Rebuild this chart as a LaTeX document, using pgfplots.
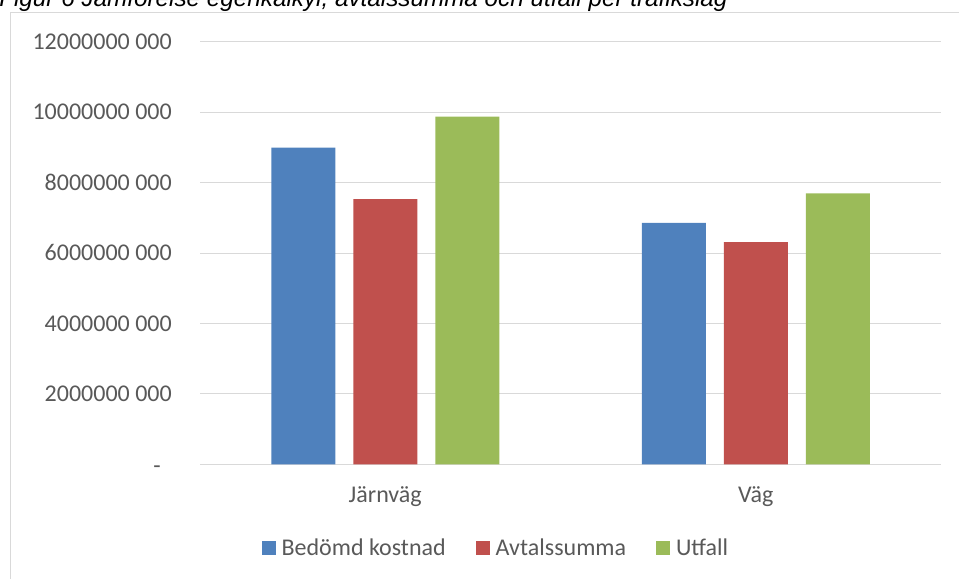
\documentclass[border=0pt]{standalone}
\usepackage{pgfplots}
\pgfplotsset{compat=1.18}
\usepackage{fontspec}
\setmainfont{Carlito}
\newfontfamily\titlefont{Liberation Sans}
\definecolor{cblue}{HTML}{4F81BD}
\definecolor{cred}{HTML}{C0504D}
\definecolor{cgreen}{HTML}{9BBB59}
\definecolor{ctext}{HTML}{595959}
\definecolor{cgrid}{HTML}{D9D9D9}
\begin{document}
\begin{tikzpicture}[x=0.75pt,y=-0.75pt]
\useasboundingbox (0,0) rectangle (959,578);
\begin{scope}
\clip (0,0) rectangle (959,578);
\node[anchor=base west, inner sep=0pt, font=\titlefont\itshape\fontsize{18.2}{22}\selectfont] at (-1,7) {Figur 6 Jämförelse egenkalkyl, avtalssumma och utfall per trafikslag};
\draw[cgrid, line width=0.75pt] (10.5,600) -- (10.5,12.5) -- (980,12.5);
\end{scope}
\coordinate (O) at (200,464.3);
\begin{axis}[
  at={(O)}, anchor=south west,
  scale only axis, width=555.75pt, height=316.8pt,
  ybar=13.5pt, bar width=48pt,
  xmin=-0.5, xmax=1.5, ymin=0, ymax=12,
  xtick={0,1}, xticklabels={Järnväg,Väg},
  ytick={0,2,4,6,8,10,12},
  yticklabels={{\raisebox{-1.5pt}{-}\kern8.3pt},2000000 000,4000000 000,6000000 000,8000000 000,10000000 000,12000000 000},
  major tick length=0pt,
  axis line style={draw=none},
  ymajorgrids, grid style={cgrid, line width=0.75pt},
  tick label style={font=\fontsize{18}{21.6}\selectfont, text=ctext, inner sep=0pt},
  yticklabel style={anchor=base east, xshift=-21pt, yshift=-5.7pt},
  xticklabel style={anchor=base, yshift=-29pt},
  legend columns=3,
  legend style={at={(0.398,-0.198)}, anchor=center, draw=none, fill=none,
    font=\fontsize{18}{21.6}\selectfont, text=ctext,
    nodes={inner sep=0pt},
    /tikz/every even column/.append style={column sep=22.5pt},
    /tikz/every odd column/.append style={column sep=4.5pt}},
  legend image code/.code={\fill[#1] (0pt,-5.25pt) rectangle (10.5pt,5.25pt);},
]
\addplot[fill=cblue, draw=none] coordinates {(0,9.00) (1,6.86)};
\addplot[fill=cred, draw=none] coordinates {(0,7.53) (1,6.31)};
\addplot[fill=cgreen, draw=none] coordinates {(0,9.875) (1,7.70)};
\legend{Bedömd kostnad,Avtalssumma,Utfall}
\end{axis}
\end{tikzpicture}
\end{document}
